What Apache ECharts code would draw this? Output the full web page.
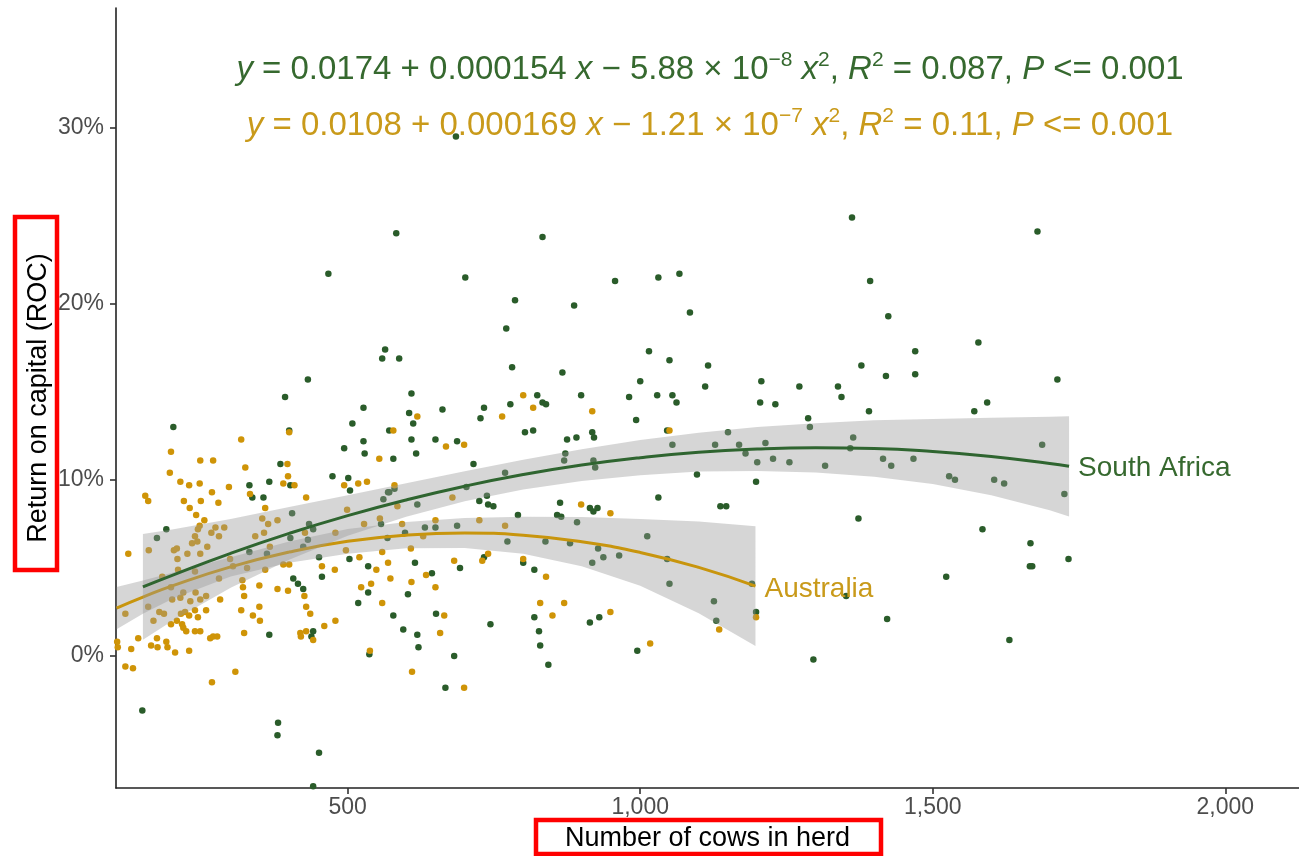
<!DOCTYPE html>
<html>
<head>
<meta charset="utf-8">
<script src="https://cdn.jsdelivr.net/npm/echarts@6/dist/echarts.min.js"></script>
<style>html,body{margin:0;padding:0;background:#fff;}#c{width:1299px;height:856px;}</style>
</head>
<body>
<div id="c"></div>
<script>
// ---- Data (herd size in cows, ROC in %) ----
const saCows = [432,393,527,202,508,400,571,527,494,529,578,385,474,501,366,332,402,504,337,356,405,190,434,441,557,571,580,561,174,402,432,568,332,362,424,451,503,535,407,456,415,424,535,518,578,366,441,438,537,149,381,380,451,441,
583,833,701,467,957,1031,1067,786,887,1085,771,564,559,588,1015,1050,1116,781,867,1000,1111,609,824,899,981,1029,1055,1062,833,839,733,778,662,605,612,727,993,609,650,687,803,817,875,891,918,921,1046,617,715,872,870,920,923,1055,769,1097,
569,619,703,725,738,740,749,791,863,858,865,914,920,927,1031,632,650,598,687,892,773,838,880,1012,928,615,692,733,800,819,918,937,964,1046,1050,644,603,651,744,819,914,930,595,619,827,621,829,682,843,995,667,
1362,1393,1424,1470,1578,1378,1420,1470,1207,1272,1338,1344,1205,1231,1391,1571,1593,1287,1290,1150,1128,1169,1214,1180,1364,1359,1200,1227,1255,1316,1415,1429,1467,1528,1538,1605,1198,
1137,1147,1373,1622,1725,1585,1667,1666,1670,1732,1523,1191,1126,1130,1198,1352,1422,1631,1296,1679,1713,1687,685];
const saRoc = [15.7,14.7,14.1,13.0,13.2,12.8,12.8,12.2,11.8,11.5,11.2,10.9,10.2,10.1,9.9,9.7,9.7,9.4,9.0,9.0,8.1,7.2,7.5,7.2,7.5,9.3,9.5,8.9,6.7,6.7,6.6,6.7,5.9,5.8,6.2,5.6,5.5,5.1,4.4,4.5,4.1,3.8,3.6,3.0,2.3,1.2,1.4,1.1,0.1,-3.1,-3.8,-4.5,-5.5,-7.4,
24.0,23.8,21.5,21.7,21.3,21.5,21.7,20.2,19.9,19.5,18.6,17.4,16.9,16.9,17.3,16.8,16.5,16.4,16.1,15.6,15.3,14.9,14.8,14.8,14.7,14.8,14.8,14.4,14.4,14.3,14.1,14.3,14.0,13.8,13.2,13.5,13.4,12.3,12.3,12.2,12.7,12.8,12.3,12.4,12.7,12.4,12.8,11.5,10.9,11.5,11.1,11.1,10.7,12.0,10.4,10.3,
9.3,8.6,9.6,8.8,9.1,8.6,8.5,8.0,8.7,8.0,7.9,8.4,8.2,8.4,9.0,7.3,7.3,7.0,7.4,7.6,6.5,6.5,6.4,6.8,6.1,5.3,5.0,5.6,5.3,4.9,5.3,5.6,5.7,5.5,4.1,4.7,3.5,2.4,1.8,2.2,1.9,2.2,1.5,1.2,1.4,0.5,0.6,0.0,-0.5,0.3,-1.8,
24.9,21.3,19.3,17.3,17.8,16.5,15.9,16.0,15.6,15.3,15.3,14.7,14.4,14.3,13.9,13.9,14.4,13.5,13.0,12.7,12.0,12.0,12.1,11.5,12.4,11.8,11.0,11.2,11.0,10.8,11.2,10.8,11.2,10.2,10.0,10.0,9.9,
8.5,8.5,7.8,9.8,9.2,7.2,6.4,5.1,5.1,5.5,4.5,4.1,3.1,2.0,2.5,3.4,2.1,0.9,-0.2,24.1,15.7,12.0,29.5];

const ausCows = [400,578,318,198,248,270,554,397,325,196,398,533,214,390,229,247,409,297,494,518,580,154,159,268,333,429,220,249,279,230,359,241,499,255,247,354,380,364,274,289,267,244,357,427,528,555,342,280,239,479,243,234,125,160,208,203,260,226,248,367,497,559,209,299,520,390,400,456,569,549,478,359,328,304,239,210,183,573,
523,540,559,320,321,349,380,398,426,323,282,258,231,248,214,200,219,240,280,198,159,120,178,186,215,222,229,239,258,244,318,338,349,350,429,436,168,198,208,217,219,224,239,248,323,419,420,429,441,460,479,142,106,107,174,164,175,190,192,205,229,130,265,270,277,538,120,133,308,268,
800,817,619,764,918,699,668,1050,585,679,899,949,593,650,629,725,769,608,682,730,740,800,839,609,634,650,829,870,665,850,949,658,1017,610,699,1135,1198];
const ausRoc = [12.7,12.8,12.3,11.6,11.1,11.1,11.2,10.9,10.7,10.4,10.2,9.9,9.9,9.8,9.7,9.8,9.7,9.6,9.7,9.8,9.7,9.1,8.8,9.3,9.2,9.0,8.8,8.8,8.7,8.4,8.4,8.0,8.3,7.7,7.4,7.8,7.7,7.5,7.3,7.3,7.0,7.2,7.0,7.0,7.5,7.8,6.8,6.8,6.8,7.0,6.5,6.4,5.8,6.0,6.1,6.0,6.2,5.8,5.8,6.2,6.0,5.9,5.5,5.5,5.6,5.2,5.2,5.1,5.3,4.9,4.9,4.9,5.0,5.1,4.8,4.9,4.5,4.4,
3.9,4.1,3.0,4.3,3.9,4.0,3.8,3.7,3.4,3.4,3.2,3.4,3.1,3.2,3.3,3.2,3.6,3.6,4.4,3.9,2.8,2.4,2.5,2.4,2.4,2.5,2.3,2.6,2.6,2.2,2.6,2.3,2.8,2.0,2.8,2.4,2.0,1.8,2.0,1.8,1.6,1.4,1.4,1.4,1.3,1.3,1.1,1.4,0.9,1.7,2.0,1.0,0.8,0.5,1.0,0.6,0.5,0.8,0.5,0.2,0.3,0.4,1.0,1.1,1.1,0.3,-0.6,-0.7,-0.9,-1.5,
14.8,14.1,13.6,13.6,13.9,12.0,11.9,12.8,8.5,9.0,8.6,8.1,7.5,7.7,6.8,7.7,7.4,6.1,5.4,5.4,5.8,5.5,4.5,4.2,4.6,3.9,3.0,3.0,2.3,2.3,2.5,1.3,0.7,-0.9,-1.8,1.5,2.2];

// fitted quadratic curves and 95% bands
const saFitCows = [150,200,300,400,500,600,700,800,900,1000,1100,1200,1300,1400,1500,1600,1700,1733];
const saFit     = [3.92,4.58,5.83,6.96,7.97,8.86,9.64,10.30,10.84,11.26,11.57,11.75,11.82,11.78,11.61,11.33,10.93,10.77];
const saUpper   = [6.92,7.18,7.78,8.46,9.12,9.81,10.49,11.15,11.74,12.26,12.67,13.00,13.22,13.38,13.46,13.53,13.58,13.62];
const saLower   = [0.92,1.98,3.88,5.46,6.82,7.91,8.79,9.45,9.94,10.26,10.47,10.50,10.42,10.18,9.76,9.13,8.28,7.92];

const ausFitCows = [105,150,200,300,400,500,600,700,800,900,1000,1100,1197];
const ausFit     = [2.72,3.34,3.98,5.06,5.90,6.51,6.86,6.98,6.86,6.49,5.88,5.03,3.97];
const ausUpper   = [3.92,4.29,4.73,5.61,6.50,7.21,7.61,7.83,7.91,7.89,7.78,7.63,7.37];
const ausLower   = [1.52,2.39,3.23,4.51,5.30,5.81,6.11,6.13,5.81,5.09,3.98,2.43,0.57];

const xTicks = [500, 1000, 1500, 2000];
const yTicks = [0, 10, 20, 30];

const eqSA  = '{i|y}{n| = 0.0174 + 0.000154 }{i|x}{n| − 5.88 × 10}{s|−8}{n| }{i|x}{s|2}{n|, }{i|R}{s|2}{n| = 0.087, }{i|P}{n| <= 0.001}';
const eqAUS = '{i|y}{n| = 0.0108 + 0.000169 }{i|x}{n| − 1.21 × 10}{s|−7}{n| }{i|x}{s|2}{n|, }{i|R}{s|2}{n| = 0.11, }{i|P}{n| <= 0.001}';

// ---- Colours ----
const GREEN_PT = '#2a5c2a', GREEN_LN = '#2f6530', GREEN_TX = '#36692f';
const ORANGE_PT = '#cf9407', ORANGE_LN = '#c8950d', ORANGE_TX = '#c99a1a';
const FONT = '"Liberation Sans", Arial, Helvetica, sans-serif';

const zip = (a, b) => a.map((v, i) => [v, b[i]]);

function bandSeries(cows, lower, upper, z) {
  return {
    type: 'custom',
    coordinateSystem: 'cartesian2d',
    clip: true,
    silent: true,
    z: z,
    data: [[cows[0], lower[0]]],
    renderItem: function (params, api) {
      const pts = [];
      for (let i = 0; i < cows.length; i++) pts.push(api.coord([cows[i], upper[i]]));
      for (let i = cows.length - 1; i >= 0; i--) pts.push(api.coord([cows[i], lower[i]]));
      return { type: 'polygon', shape: { points: pts }, style: { fill: 'rgba(153,153,153,0.4)' } };
    }
  };
}

function richStyles(color) {
  return {
    n: { fontSize: 33, fontFamily: FONT, fill: color, lineHeight: 40 },
    i: { fontSize: 33, fontFamily: FONT, fontStyle: 'italic', fill: color, lineHeight: 40 },
    s: { fontSize: 21, fontFamily: FONT, fill: color, lineHeight: 16, verticalAlign: 'top' }
  };
}

const chart = echarts.init(document.getElementById('c'), null, { renderer: 'canvas' });
chart.setOption({
  animation: false,
  backgroundColor: '#ffffff',
  textStyle: { fontFamily: FONT },
  grid: { left: 116, right: 0, top: 8, bottom: 68, containLabel: false, outerBoundsMode: 'none' },
  xAxis: {
    type: 'value', min: 104, max: 2126,
    name: 'Number of cows in herd', nameLocation: 'middle', nameGap: 37, nameMoveOverlap: false,
    nameTextStyle: { fontSize: 27, color: '#000', fontFamily: FONT },
    axisLine: { show: true, onZero: false, lineStyle: { color: '#222', width: 1.6 } },
    axisTick: { show: true, customValues: xTicks, length: 6, lineStyle: { color: '#333', width: 1.6 } },
    axisLabel: { customValues: xTicks, fontSize: 23, color: '#4d4d4d', margin: 8, fontFamily: FONT,
      formatter: v => Number(v).toLocaleString('en-US') },
    splitLine: { show: false }
  },
  yAxis: {
    type: 'value', min: -7.5, max: 36.8,
    name: 'Return on capital (ROC)', nameLocation: 'middle', nameGap: 64, nameRotate: 90, nameMoveOverlap: false,
    nameTextStyle: { fontSize: 27, color: '#000', fontFamily: FONT },
    axisLine: { show: true, onZero: false, lineStyle: { color: '#222', width: 1.6 } },
    axisTick: { show: true, customValues: yTicks, length: 6, lineStyle: { color: '#333', width: 1.6 } },
    axisLabel: { customValues: yTicks, fontSize: 23, color: '#4d4d4d', margin: 12, fontFamily: FONT,
      formatter: v => v + '%' },
    splitLine: { show: false }
  },
  series: [
    { name: 'South Africa pts', type: 'scatter', data: zip(saCows, saRoc), symbolSize: 6.5,
      itemStyle: { color: GREEN_PT, opacity: 1 }, z: 2, silent: true },
    { name: 'Australia pts', type: 'scatter', data: zip(ausCows, ausRoc), symbolSize: 6.5,
      itemStyle: { color: ORANGE_PT, opacity: 1 }, z: 2, silent: true },
    bandSeries(ausFitCows, ausLower, ausUpper, 3),
    { name: 'Australia', type: 'line', data: zip(ausFitCows, ausFit), smooth: true, showSymbol: false,
      lineStyle: { color: ORANGE_LN, width: 3 }, z: 4, silent: true,
      endLabel: { show: true, formatter: 'Australia', color: ORANGE_TX, fontSize: 28, fontFamily: FONT, distance: 9, offset: [0, 3] } },
    bandSeries(saFitCows, saLower, saUpper, 5),
    { name: 'South Africa', type: 'line', data: zip(saFitCows, saFit), smooth: true, showSymbol: false,
      lineStyle: { color: GREEN_LN, width: 3 }, z: 6, silent: true,
      endLabel: { show: true, formatter: 'South Africa', color: GREEN_TX, fontSize: 28, fontFamily: FONT, distance: 9, offset: [0, 2] } }
  ],
  graphic: [
    { type: 'text', x: 710, y: 70, z: 100, silent: true,
      style: { text: eqSA, rich: richStyles(GREEN_TX), fill: GREEN_TX, fontSize: 33, fontFamily: FONT,
        align: 'center', verticalAlign: 'middle', textAlign: 'center', textVerticalAlign: 'middle' } },
    { type: 'text', x: 710, y: 126, z: 100, silent: true,
      style: { text: eqAUS, rich: richStyles(ORANGE_TX), fill: ORANGE_TX, fontSize: 33, fontFamily: FONT,
        align: 'center', verticalAlign: 'middle', textAlign: 'center', textVerticalAlign: 'middle' } },
    { type: 'rect', z: 100, silent: true, shape: { x: 15, y: 217, width: 42, height: 353 },
      style: { fill: 'none', stroke: '#ff0000', lineWidth: 4.5 } },
    { type: 'rect', z: 100, silent: true, shape: { x: 536, y: 820, width: 345, height: 34 },
      style: { fill: 'none', stroke: '#ff0000', lineWidth: 4.5 } }
  ]
});
</script>
</body>
</html>
